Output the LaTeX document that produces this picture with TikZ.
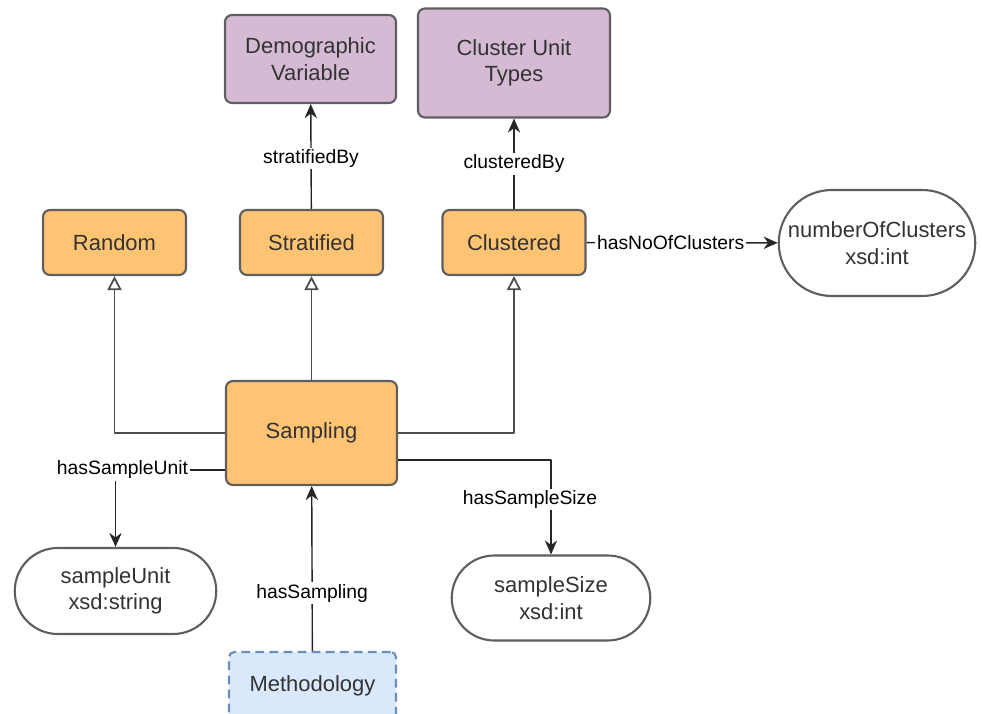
\documentclass[tikz,border=0pt]{standalone}
\usepackage{fontspec}
\setmainfont{Liberation Sans}
\usetikzlibrary{arrows.meta,shapes.misc}
\definecolor{classfill}{HTML}{FFC374}
\definecolor{extfill}{HTML}{D5BAD4}
\definecolor{methfill}{HTML}{DAE8FC}
\definecolor{methline}{HTML}{6C8EBF}
\definecolor{boxline}{HTML}{5E5E5E}
\begin{document}
\begin{tikzpicture}[line join=round,>={Stealth[length=8pt,width=7pt]},
	cls/.style={draw=boxline,line width=1.2pt,rounded corners=4pt,fill=classfill,text=black!80,font=\fontsize{12.5}{15}\selectfont,align=center,minimum width=2.86cm,minimum height=1.3cm},
	ext/.style={cls,fill=extfill},
	lit/.style={draw=boxline,line width=1.2pt,rounded rectangle,fill=white,text=black!80,font=\fontsize{12.5}{15}\selectfont,align=center,inner sep=1pt},
	rel/.style={font=\fontsize{11}{13}\selectfont,fill=white,inner sep=1pt},
	isa/.style={draw=black!70,line width=1pt,-{Triangle[open,length=8pt,width=8pt]}},
	prop/.style={draw=black!85,line width=0.8pt,->}]
	\useasboundingbox (0,0) rectangle (19.64,14.26);
	% classes
	\node[ext,minimum width=3.42cm,minimum height=1.76cm] (demo) at (6.21,13.08) {Demographic\\Variable};
	\node[ext,minimum width=3.84cm,minimum height=2.18cm] (cut) at (10.28,13.0) {Cluster Unit\\Types};
	\node[cls] (rand) at (2.29,9.41) {Random};
	\node[cls] (strat) at (6.23,9.41) {Stratified};
	\node[cls] (clus) at (10.28,9.41) {Clustered};
	\node[cls,minimum width=3.42cm,minimum height=2.08cm] (samp) at (6.23,5.6) {Sampling};
	\node[cls,fill=methfill,draw=methline,dash pattern=on 5pt off 3pt,rounded corners=3pt,minimum width=3.34cm,minimum height=1.36cm] (meth) at (6.25,0.54) {Methodology};
	% datatype values
	\node[lit,minimum width=4cm,minimum height=2.12cm] (noc) at (17.54,9.4) {numberOfClusters\\xsd:int};
	\node[lit,minimum width=4.1cm,minimum height=1.72cm] (unit) at (2.31,2.44) {sampleUnit\\xsd:string};
	\node[lit,minimum width=4.04cm,minimum height=1.7cm] (size) at (11.02,2.3) {sampleSize\\xsd:int};
	% subclass links
	\draw[isa] (samp) -- (strat);
	\draw[isa] (samp.west) -| (rand.south);
	\draw[isa] (samp.east) -| (clus.south);
	% object and data properties
	\draw[prop] (strat) -- node[rel,pos=0.48]{stratifiedBy} (demo);
	\draw[prop] (clus) -- node[rel,pos=0.5]{clusteredBy} (cut);
	\draw[prop] (clus) -- node[rel,pos=0.44]{hasNoOfClusters} (noc);
	\draw[prop] (samp.west |- 0,4.86) -| node[rel,pos=0.5,xshift=0.14cm]{hasSampleUnit} (unit.north);
	\draw[prop] (samp.east |- 0,5.06) -| node[rel,pos=0.71,xshift=-0.42cm]{hasSampleSize} (size.north);
	\draw[prop] (meth) -- node[rel,pos=0.35]{hasSampling} (samp);
\end{tikzpicture}
\end{document}
